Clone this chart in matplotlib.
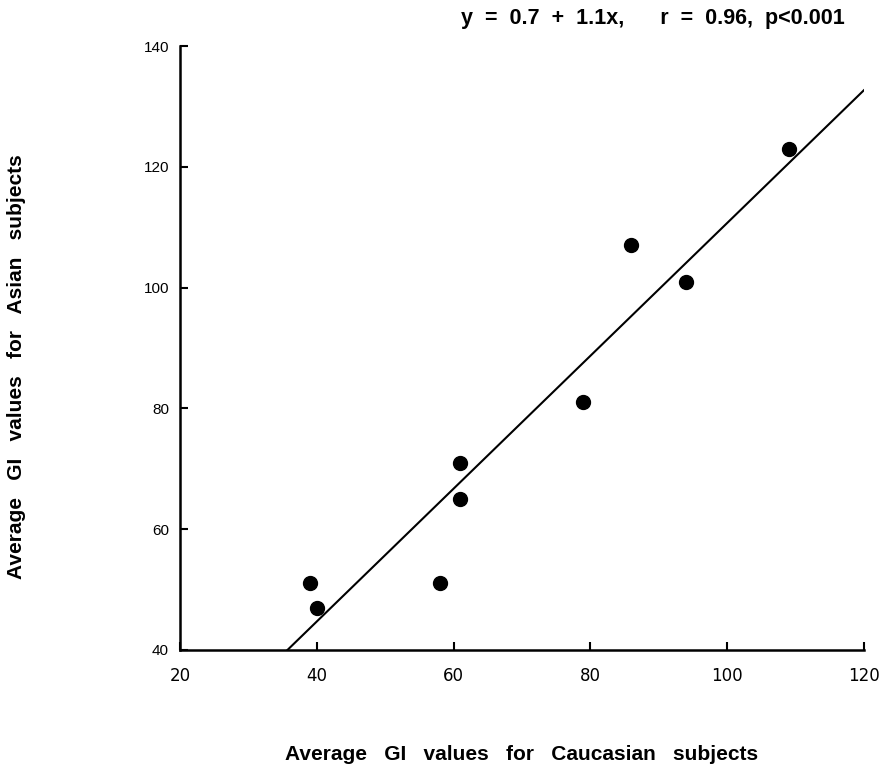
import numpy as np
import matplotlib.pyplot as plt

plt.rcParams['font.family'] = ['Liberation Sans', 'DejaVu Sans']

# Average GI values per food
caucasian = [39, 40, 58, 61, 61, 79, 86, 94, 109]
asian = [51, 47, 51, 71, 65, 81, 107, 101, 123]

# Regression line y = 0.7 + 1.1x
intercept = 0.7
slope = 1.1

x_ticks = [20, 40, 60, 80, 100, 120]
y_ticks = [40, 60, 80, 100, 120, 140]

fig = plt.figure(figsize=(8.85, 7.7), dpi=100)
ax = fig.add_axes([0.2034, 0.156, 0.7727, 0.784])

ax.scatter(caucasian, asian, s=100, color='black', zorder=3)

x_line = np.linspace(20, 120, 200)
ax.plot(x_line, intercept + slope * x_line, color='black', linewidth=1.5)

ax.set_xlim(20, 120)
ax.set_ylim(40, 140)
ax.set_xticks(x_ticks)
ax.set_yticks(y_ticks)
ax.set_xticklabels([str(t) for t in x_ticks], fontsize=12, family='DejaVu Sans')
ax.set_yticklabels([str(t) for t in y_ticks], fontsize=11)
ax.tick_params(direction='in', length=6, width=1.5)
ax.tick_params(axis='x', pad=12)
ax.tick_params(axis='y', pad=8)

for side in ['top', 'right']:
    ax.spines[side].set_visible(False)
for side in ['left', 'bottom']:
    ax.spines[side].set_linewidth(1.8)

ax.set_xlabel('Average   GI   values   for   Caucasian   subjects',
              fontsize=15, fontweight='bold')
ax.xaxis.set_label_coords(0.5, -0.157)
ax.set_ylabel('Average   GI   values   for   Asian   subjects',
              fontsize=15, fontweight='bold')
ax.yaxis.set_label_coords(-0.225, 0.469)

fig.text(0.955, 0.976, 'y  =  0.7  +  1.1x,      r  =  0.96,  p<0.001',
         fontsize=15.5, fontweight='bold', ha='right', va='center')

plt.savefig('out.png')
plt.close()
